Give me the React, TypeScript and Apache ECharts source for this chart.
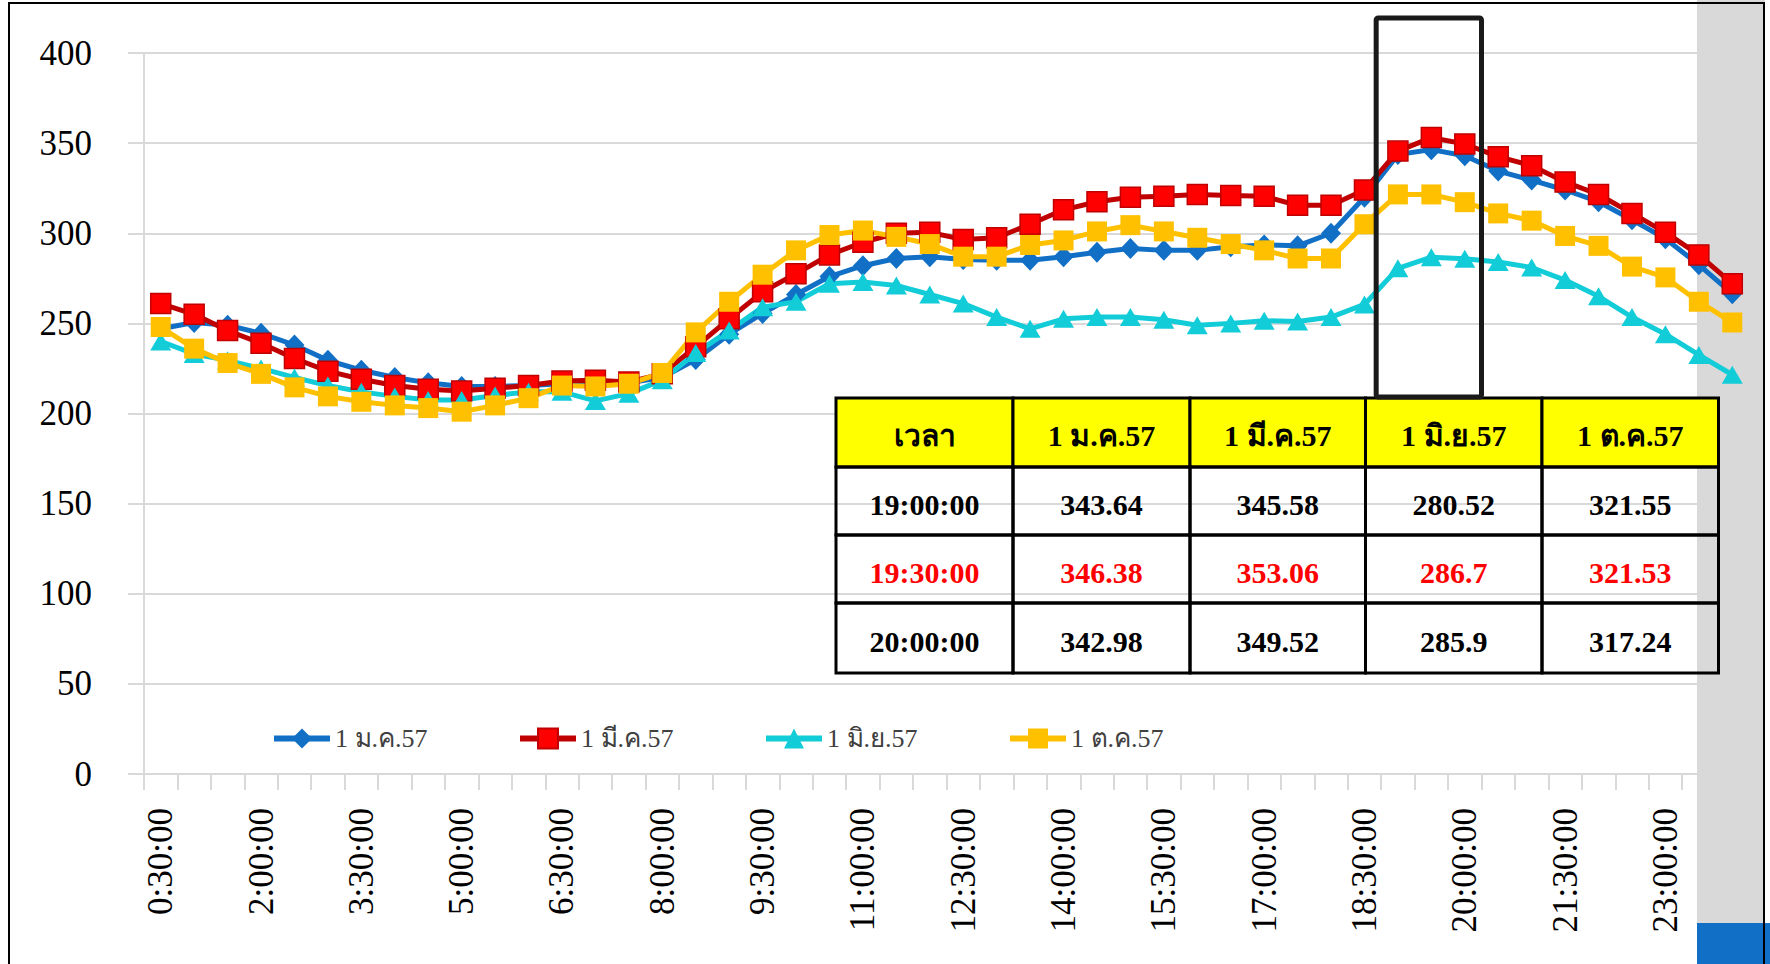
import React, { useEffect, useRef } from 'react';
import * as echarts from 'echarts';

const times = [
  '0:30:00', '1:00:00', '1:30:00', '2:00:00', '2:30:00', '3:00:00', '3:30:00', '4:00:00',
  '4:30:00', '5:00:00', '5:30:00', '6:00:00', '6:30:00', '7:00:00', '7:30:00', '8:00:00',
  '8:30:00', '9:00:00', '9:30:00', '10:00:00', '10:30:00', '11:00:00', '11:30:00', '12:00:00',
  '12:30:00', '13:00:00', '13:30:00', '14:00:00', '14:30:00', '15:00:00', '15:30:00', '16:00:00',
  '16:30:00', '17:00:00', '17:30:00', '18:00:00', '18:30:00', '19:00:00', '19:30:00', '20:00:00',
  '20:30:00', '21:00:00', '21:30:00', '22:00:00', '22:30:00', '23:00:00', '23:30:00', '0:00:00',
];

const seriesNames = ['1 ม.ค.57', '1 มี.ค.57', '1 มิ.ย.57', '1 ต.ค.57'];

const jan = [
  247, 250.5, 249, 244.5, 238, 229.5, 224, 220, 217, 215, 215, 215.5, 216.5, 216, 217, 220,
  230, 244, 255.5, 266, 276, 282, 286, 287, 285.5, 285, 285, 287, 289.5, 291.5, 290.5, 290.5,
  292.5, 293.5, 293, 300, 320, 343.64, 346.38, 342.98, 334.5, 329.5, 324, 317.5, 307.5, 297, 282.5, 266.5,
];
const mar = [
  261, 255, 246, 239, 230.5, 223.5, 219, 215.5, 213.5, 212.5, 214, 215.5, 218, 218.5, 217.5, 222,
  237, 252.5, 267.5, 277.5, 288, 295, 300, 300.5, 296.5, 297.5, 305, 313, 317.5, 320, 320.5, 321.5,
  321, 320.5, 315.5, 315.5, 324, 345.58, 353.06, 349.52, 342.5, 337.5, 328.5, 321.5, 311, 300.5, 288, 272,
];
const jun = [
  240, 233, 229.5, 225, 220, 215.5, 212, 209.5, 207.5, 207.5, 210, 212, 212, 207, 211, 218.5,
  233.5, 246, 259, 262, 272, 273, 271, 266, 261, 253.5, 247, 252.5, 253.5, 253.5, 252, 249,
  250, 251.5, 251, 253.5, 260.5, 280.52, 286.7, 285.9, 284, 281, 274, 265, 253.5, 244, 232.5, 221.5,
];
const oct = [
  248, 236, 228, 222, 214.5, 209.5, 206.5, 204.5, 203, 201, 204.5, 208.5, 215.5, 215, 216.5, 222.5,
  245, 262, 277, 290.5, 299, 301.5, 298, 294, 287, 287, 293.5, 296, 301, 304.5, 301, 297.5,
  294, 290.5, 286, 286, 305, 321.55, 321.53, 317.24, 311, 307, 298.5, 293, 281.5, 275.5, 262, 250.5,
];

const yMin = 0;
const yMax = 400;
const yInterval = 50;

const tableHeaderLabel = 'เวลา';
const tableTimes = ['19:00:00', '19:30:00', '20:00:00'];
const highlightTime = '19:30:00';

const allSeries = [jan, mar, jun, oct];
const lineColors = ['#1170C6', '#C00000', '#12CCD8', '#FFC000'];
const fillColors = ['#1170C6', '#FF0000', '#12CCD8', '#FFC000'];
const symbols = ['diamond', 'rect', 'triangle', 'rect'];
const symbolSizes: any[] = [[20, 21], 20, [21, 18], 20];
const legendLefts = [271, 517, 763, 1007];

const SERIF = '"Liberation Serif", "Times New Roman", serif';

function buildTable() {
  const colX = [836, 1013, 1190, 1365.5, 1542, 1718.5];
  const rowY = [398, 467, 535, 603, 673];
  const rows: { texts: string[]; color: string }[] = [];
  rows.push({ texts: [tableHeaderLabel, ...seriesNames], color: '#000' });
  tableTimes.forEach((t) => {
    const idx = times.indexOf(t);
    rows.push({
      texts: [t, ...allSeries.map((s) => String(s[idx]))],
      color: t === highlightTime ? '#FF0000' : '#000',
    });
  });
  const children: any[] = [];
  rows.forEach((row, r) => {
    row.texts.forEach((txt, c) => {
      const x0 = colX[c];
      const x1 = colX[c + 1];
      const y0 = rowY[r];
      const y1 = rowY[r + 1];
      children.push({
        type: 'rect',
        shape: { x: x0, y: y0, width: x1 - x0, height: y1 - y0 },
        style: { fill: r === 0 ? '#FFFF00' : 'rgba(0,0,0,0)', stroke: '#000', lineWidth: 3 },
        z: 30,
      });
      children.push({
        type: 'text',
        x: (x0 + x1) / 2,
        y: (y0 + y1) / 2 + 3,
        z: 31,
        style: {
          text: txt,
          fill: row.color,
          fontSize: 30,
          fontWeight: 'bold',
          fontFamily: SERIF,
          align: 'center',
          verticalAlign: 'middle',
        },
      });
    });
  });
  return children;
}

export default function App() {
  const ref = useRef<HTMLDivElement>(null);

  useEffect(() => {
    if (!ref.current) return;
    const chart = echarts.init(ref.current, undefined, { renderer: 'svg' });

    const series = seriesNames.map((name, i) => ({
      name,
      type: 'line',
      data: allSeries[i],
      symbol: symbols[i],
      symbolSize: symbolSizes[i],
      showAllSymbol: true,
      lineStyle: { color: lineColors[i], width: 5 },
      itemStyle: {
        color: fillColors[i],
        borderColor: lineColors[i],
        borderWidth: i === 1 ? 1.5 : 0,
      },
      emphasis: { disabled: true },
    }));

    const legends = seriesNames.map((name, i) => ({
      data: [name],
      left: legendLefts[i],
      top: 738 - 12.5,
      padding: 0,
      itemWidth: 56,
      itemHeight: 25,
      itemGap: 0,
      selectedMode: false,
      lineStyle: { width: 6 },
      textStyle: { fontSize: 26, fontFamily: SERIF, color: '#404040' },
    }));

    const baseGraphics: any[] = [
      {
        type: 'rect',
        id: 'grayband',
        shape: { x: 1697, y: 0, width: 68, height: 964 },
        style: { fill: '#D9D9D9' },
        z: -10,
        silent: true,
      },
      {
        type: 'rect',
        id: 'bluebox',
        shape: { x: 1697, y: 923, width: 73, height: 41 },
        style: { fill: '#1170C6' },
        z: -5,
        silent: true,
      },
      {
        type: 'rect',
        id: 'frame',
        shape: { x: 9, y: 3, width: 1755, height: 1000 },
        style: { fill: 'none', stroke: '#000', lineWidth: 2 },
        z: 40,
        silent: true,
      },
      {
        type: 'group',
        id: 'table',
        children: buildTable(),
        z: 30,
      },
    ];

    chart.setOption({
      animation: false,
      backgroundColor: '#fff',
      grid: { left: 144, top: 53, width: 1605, height: 721, containLabel: false },
      legend: legends,
      xAxis: {
        type: 'category',
        data: times,
        boundaryGap: true,
        axisLine: { show: true, lineStyle: { color: '#D9D9D9', width: 2 } },
        axisTick: { show: true, interval: 0, length: 16, lineStyle: { color: '#D9D9D9', width: 2 } },
        axisLabel: {
          interval: 2,
          rotate: 90,
          margin: 34,
          fontSize: 35,
          fontFamily: SERIF,
          color: '#000',
        },
        splitLine: { show: false },
      },
      yAxis: {
        type: 'value',
        min: yMin,
        max: yMax,
        interval: yInterval,
        axisLine: { show: true, lineStyle: { color: '#D9D9D9', width: 2 } },
        axisTick: { show: true, length: 16, lineStyle: { color: '#D9D9D9', width: 2 } },
        axisLabel: { margin: 52, fontSize: 35, fontFamily: SERIF, color: '#000' },
        splitLine: { show: true, lineStyle: { color: '#D9D9D9', width: 2 } },
      },
      series,
      graphic: baseGraphics,
    });

    // Highlight frame around 19:00 – 20:00 positioned through the category axis
    const x19 = chart.convertToPixel({ xAxisIndex: 0 }, '19:00:00') as number;
    const x20 = chart.convertToPixel({ xAxisIndex: 0 }, '20:00:00') as number;
    const step = (x20 - x19) / 2;
    const left = x19 - step * 0.65;
    const right = x20 + step * 0.5;
    chart.setOption({
      graphic: [
        ...baseGraphics,
        {
          type: 'rect',
          id: 'highlight',
          shape: { x: left, y: 18, width: right - left, height: 379, r: 2 },
          style: { fill: 'none', stroke: '#1A1A1A', lineWidth: 5 },
          z: 35,
          silent: true,
        },
      ],
    });

    return () => {
      chart.dispose();
    };
  }, []);

  return (
    <div
      ref={ref}
      style={{ position: 'absolute', left: 0, top: 0, width: 1770, height: 964, background: '#fff' }}
    />
  );
}
